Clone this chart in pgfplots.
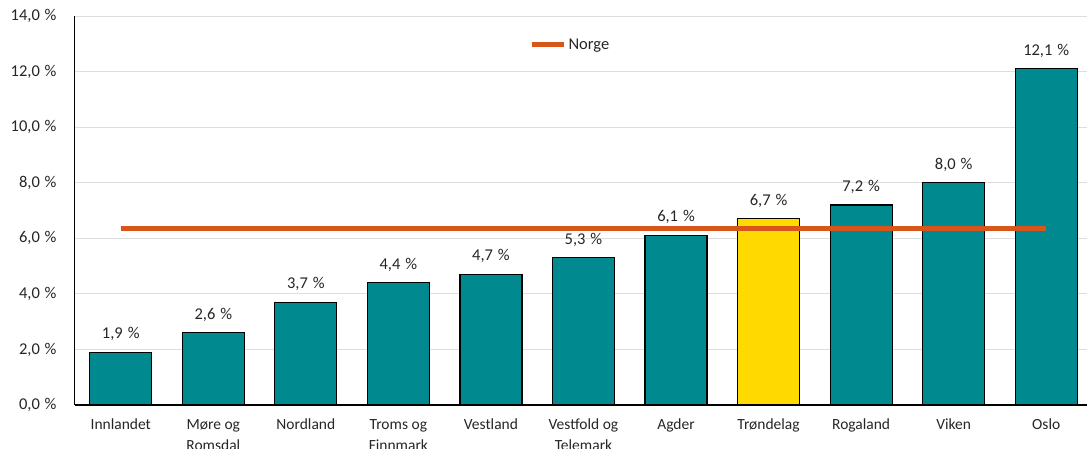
\documentclass[border=0pt]{standalone}
\usepackage{pgfplots}
\pgfplotsset{compat=1.18}
\usepackage{fontspec}
\setmainfont{Carlito}
\definecolor{teal}{HTML}{00898F}
\definecolor{gul}{HTML}{FFD900}
\definecolor{norge}{HTML}{D9561A}
\definecolor{txt}{HTML}{262626}

\begin{document}
\begin{tikzpicture}
\useasboundingbox (0pt,0pt) rectangle (1087pt,448pt);
\clip (0pt,0pt) rectangle (1087pt,448pt);
\begin{axis}[
    at={(74.5pt,43pt)}, anchor=south west,
    scale only axis, width=1018pt, height=389pt,
    xmin=-0.5, xmax=10.5, ymin=0, ymax=14,
    axis lines*=left, axis line style={black, line width=1.2pt},
    major tick length=0pt,
    xtick={0,...,10},
    xticklabels={Innlandet,{Møre og\\Romsdal},Nordland,{Troms og\\Finnmark},Vestland,{Vestfold og\\Telemark},Agder,Trøndelag,Rogaland,Viken,Oslo},
    xticklabel style={align=center, anchor=north, inner sep=0pt, yshift=-14pt,
        font=\fontsize{15.5}{21}\selectfont},
    ytick={0,2,...,14},
    yticklabel={\pgfmathprintnumber[fixed,fixed zerofill,precision=1,use comma]{\tick}\hspace{0.28em}\%},
    yticklabel style={anchor=east, inner sep=0pt, xshift=-18pt, font=\fontsize{16.5}{20}\selectfont},
    /pgf/number format/assume math mode=true,
    tick label style={text=txt},
    ymajorgrids, grid style={color=black!13, line width=0.8pt},
    ybar, bar width=0.67, bar shift=0pt,
    nodes near coords={\pgfmathprintnumber[fixed,fixed zerofill,precision=1,use comma]{\pgfplotspointmeta}\hspace{0.3em}\%},
    nodes near coords style={font=\fontsize{16.5}{20}\selectfont, text=txt, anchor=south, yshift=7.5pt},
    legend style={at={(axis cs:4.42,12.97)}, anchor=west, draw=none, fill=none,
        font=\fontsize{16.5}{20}\selectfont, text=txt, inner sep=0pt},
    legend image code/.code={\draw[line width=4.5pt] (0pt,0pt) -- (32pt,0pt);},
    clip=false,
]
\addplot[fill=teal, draw=black, line width=1.2pt, forget plot]
  coordinates {(0,1.9)(1,2.6)(2,3.7)(3,4.4)(4,4.7)(5,5.3)(6,6.1)(8,7.2)(9,8.0)(10,12.1)};
\addplot[fill=gul, draw=black, line width=1.2pt, forget plot]
  coordinates {(7,6.7)};
\addplot[sharp plot, norge, line width=4.5pt, nodes near coords={}, no markers]
  coordinates {(0,6.35)(10,6.35)};
\addlegendentry{Norge}
\end{axis}
\end{tikzpicture}
\end{document}
